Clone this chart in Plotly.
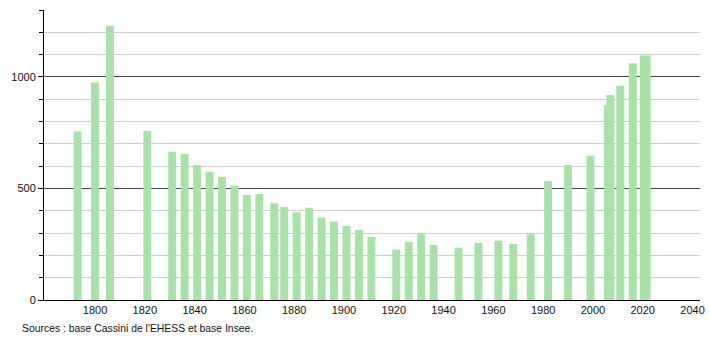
import plotly.graph_objects as go

years = [1793, 1800, 1806, 1821, 1831, 1836, 1841, 1846, 1851, 1856,
         1861, 1866, 1872, 1876, 1881, 1886, 1891, 1896, 1901, 1906,
         1911, 1921, 1926, 1931, 1936, 1946, 1954, 1962, 1968, 1975,
         1982, 1990, 1999, 2006, 2007, 2011, 2016, 2021]
population = [755, 975, 1229, 758, 665, 655, 605, 575, 552, 513,
              471, 475, 434, 417, 393, 414, 369, 351, 332, 314,
              283, 226, 260, 295, 247, 235, 256, 266, 251, 295,
              534, 605, 647, 874, 919, 960, 1061, 1096]
x_ticks = [1800, 1820, 1840, 1860, 1880, 1900, 1920, 1940, 1960, 1980, 2000, 2020, 2040]
y_ticks = [0, 500, 1000]
source_text = "Sources : base Cassini de l'EHESS et base Insee."

bar_widths = [3.2] * len(years)
bar_widths[-1] = 4.4

fig = go.Figure(go.Bar(
    x=years, y=population, width=bar_widths,
    marker=dict(color="#a8e2a8", line=dict(width=0)),
    hoverinfo="x+y",
))

fig.update_layout(
    width=710, height=340,
    margin=dict(l=44, r=10, t=10, b=40, autoexpand=False),
    plot_bgcolor="white", paper_bgcolor="white",
    showlegend=False,
    font=dict(family="Liberation Sans, Arial, sans-serif", size=11, color="#111"),
    xaxis=dict(
        range=[1779.5, 2043], tickvals=x_ticks, ticktext=[str(v) for v in x_ticks],
        showgrid=False, zeroline=False, showline=True, linecolor="black", linewidth=1,
        ticks="", ticklen=0, tickfont=dict(size=11), automargin=False,
    ),
    yaxis=dict(
        range=[0, 1300], tickvals=y_ticks, ticktext=[str(v) for v in y_ticks],
        showgrid=True, gridcolor="#444", gridwidth=1, zeroline=False,
        showline=True, linecolor="black", linewidth=1, automargin=False,
        ticks="outside", ticklen=5, tickcolor="black", tickfont=dict(size=11),
        minor=dict(dtick=100, tick0=0, showgrid=True, gridcolor="#cccccc", gridwidth=1,
                   ticks="outside", ticklen=4, tickcolor="black"),
    ),
    annotations=[dict(
        text=source_text, xref="paper", yref="paper", x=-0.037, y=-0.072,
        xanchor="left", yanchor="top", showarrow=False,
        font=dict(size=10.4, color="#111"),
    )],
)

fig.write_html("out.html")
